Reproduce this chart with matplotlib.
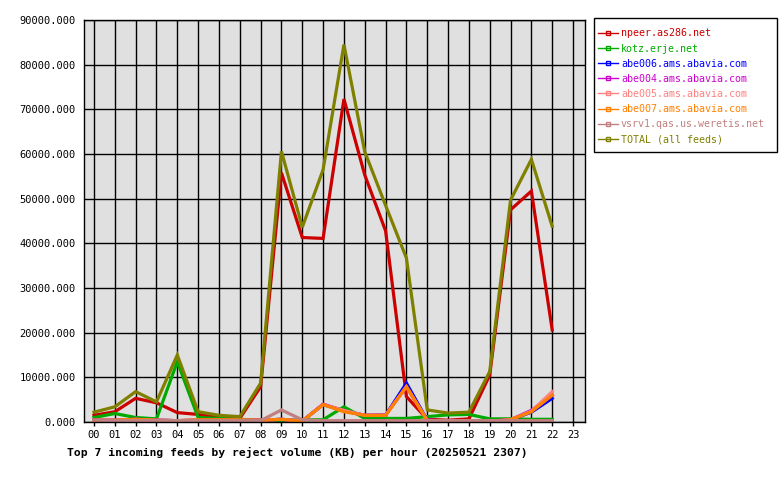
import matplotlib
matplotlib.use('Agg')
import matplotlib.pyplot as plt
from matplotlib.lines import Line2D
from matplotlib.patches import Rectangle

hours = list(range(23))
hour_labels = [f'{h:02d}' for h in range(24)]

feeds = [
    'npeer.as286.net',
    'kotz.erje.net',
    'abe006.ams.abavia.com',
    'abe004.ams.abavia.com',
    'abe005.ams.abavia.com',
    'abe007.ams.abavia.com',
    'vsrv1.qas.us.weretis.net',
    'TOTAL (all feeds)',
]
colors = ['#cc0000', '#00aa00', '#0000ff', '#cc00cc', '#ff8080', '#ff8000', '#c08080', '#808000']

npeer = [1500, 2300, 5300, 4300, 2100, 1700, 1100, 800, 7900, 55800, 41300, 41100,
         72300, 55300, 42800, 5700, 600, 400, 700, 10500, 47500, 51700, 20600]
kotz = [1000, 1900, 1000, 700, 13500, 1000, 800, 600, 400, 200, 500, 500,
        3400, 800, 800, 800, 1200, 1600, 1700, 700, 700, 600, 600]
abe006 = [400, 400, 600, 400, 300, 400, 400, 400, 400, 600, 200, 3900,
          2500, 1500, 1500, 8700, 400, 200, 200, 200, 500, 2200, 5300]
abe004 = [400, 400, 600, 400, 300, 400, 400, 400, 400, 600, 200, 4000,
          2500, 1500, 1600, 7900, 400, 200, 200, 200, 500, 2600, 6000]
abe005 = [400, 400, 600, 400, 300, 400, 400, 400, 400, 600, 200, 3900,
          2600, 1500, 1500, 7900, 400, 200, 200, 200, 500, 2400, 6800]
abe007 = [400, 400, 600, 400, 300, 500, 500, 500, 400, 600, 200, 3900,
          2300, 1500, 1500, 7900, 300, 200, 200, 200, 500, 2300, 6000]
vsrv1 = [400, 300, 300, 300, 300, 300, 300, 300, 300, 2700, 500, 300,
         300, 300, 300, 300, 300, 300, 300, 300, 300, 300, 300]
total = [2200, 3400, 6800, 4500, 15000, 2300, 1500, 1200, 8700, 60600, 43600, 56500,
         84500, 60500, 48500, 36700, 2700, 2000, 2200, 11300, 49700, 58800, 43800]

series = [npeer, kotz, abe006, abe004, abe005, abe007, vsrv1, total]

mono = 'DejaVu Sans Mono'
W, H = 780, 480
fig = plt.figure(figsize=(W / 100, H / 100), dpi=100)
ax = fig.add_axes([84 / W, 58 / H, 500.7 / W, 402 / H])
ax.set_facecolor('#e0e0e0')

for vals, c in zip(series, colors):
    ax.plot(hours, vals, color=c, lw=2.3, solid_joinstyle='miter')

ax.set_xlim(-0.48, 23.56)
ax.set_ylim(0, 90000)
ax.set_xticks(range(24))
ax.set_xticklabels(hour_labels, fontfamily=mono, fontsize=7.5)
ax.set_yticks(range(0, 90001, 10000))
ax.set_yticklabels([f'{v}.000' for v in range(0, 90001, 10000)], fontfamily=mono, fontsize=7.5)
ax.tick_params(axis='x', length=3, width=1, pad=3, color='black')
ax.tick_params(axis='y', length=0, pad=6)
ax.grid(True, color='black', lw=1)
ax.set_axisbelow(True)
for s in ax.spines.values():
    s.set_color('black')
    s.set_linewidth(1)

fig.text(67 / W, 1 - 452 / H, 'Top 7 incoming feeds by reject volume (KB) per hour (20250521 2307)',
         fontfamily=mono, fontsize=8.2, fontweight='bold', ha='left', va='center')

# legend box drawn by hand so the padding matches the original
fig.patches.append(Rectangle((594 / W, 1 - 152 / H), 183 / W, 134 / H, transform=fig.transFigure,
                             facecolor='white', edgecolor='black', lw=1))
handles = [Line2D([0], [0], color=c, lw=1, marker='s', ms=3, markerfacecolor='none',
                  markeredgecolor=c) for c in colors]
leg = fig.legend(handles, feeds, loc='upper left', bbox_to_anchor=(598 / W, 1 - 28.5 / H),
                 prop={'family': mono, 'size': 7.2}, frameon=False,
                 handlelength=2.0, handletextpad=0.3, labelspacing=0.51,
                 borderpad=0, borderaxespad=0)
for t, c in zip(leg.get_texts(), colors):
    t.set_color(c)

fig.savefig('out.png', dpi=100, facecolor='white')
